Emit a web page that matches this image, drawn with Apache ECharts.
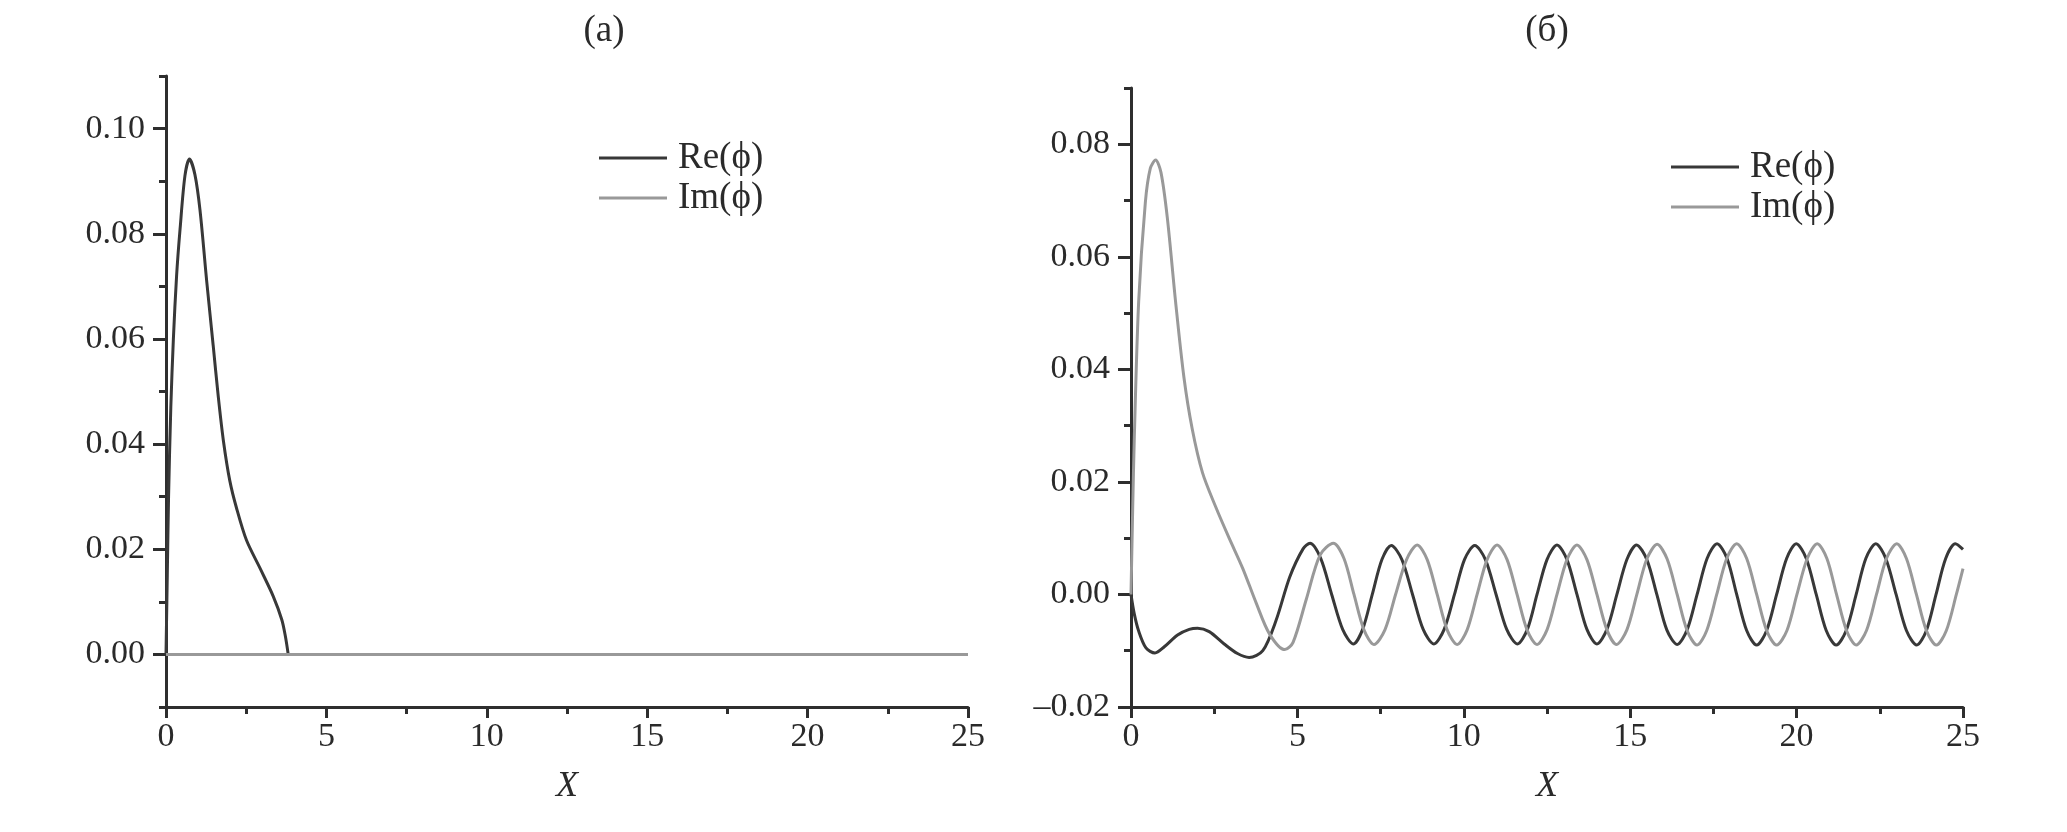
<!DOCTYPE html>
<html>
<head>
<meta charset="utf-8">
<script src="https://cdn.jsdelivr.net/npm/echarts@6/dist/echarts.min.js"></script>
<style>
html,body{margin:0;padding:0;background:#fff;}
#chart{width:2067px;height:832px;}
</style>
</head>
<body>
<div id="chart"></div>
<script>
// ---- data ----
const panelTitles = ['(а)', '(б)'];
const seriesNames = ['Re(ϕ)', 'Im(ϕ)'];
const xName = 'X';

const xMajorTicks = [0, 5, 10, 15, 20, 25];
const xMinorTicks = [2.5, 7.5, 12.5, 17.5, 22.5];

const leftYMajorTicks = [0, 0.02, 0.04, 0.06, 0.08, 0.10];
const leftYMinorTicks = [-0.01, 0.01, 0.03, 0.05, 0.07, 0.09, 0.11];
const rightYMajorTicks = [-0.02, 0, 0.02, 0.04, 0.06, 0.08];
const rightYMinorTicks = [-0.01, 0.01, 0.03, 0.05, 0.07, 0.09];

// panel (a)
const leftRe = [
  [0, 0], [0.04, 0.015], [0.08, 0.03], [0.15, 0.047], [0.23, 0.06], [0.33, 0.072],
  [0.44, 0.081], [0.59, 0.091], [0.73, 0.0942], [0.9, 0.0913], [1.06, 0.0845],
  [1.27, 0.0709], [1.47, 0.0588], [1.63, 0.049], [1.79, 0.0406], [1.99, 0.033],
  [2.2, 0.0278], [2.51, 0.0217], [2.93, 0.0164], [3.34, 0.0111], [3.61, 0.0066],
  [3.72, 0.0035], [3.81, 0]
];
const leftIm = [[0, 0], [25, 0]];

// panel (б)
const rightRe = [
  [0, 0], [0.1, -0.0035], [0.23, -0.0065], [0.45, -0.0095], [0.72, -0.0104],
  [1.0, -0.0093], [1.4, -0.0072], [1.75, -0.0062], [2.0, -0.006], [2.35, -0.0066],
  [2.8, -0.0088], [3.2, -0.0105], [3.55, -0.0112], [3.96, -0.010], [4.36, -0.0046],
  [4.77, 0.0031], [5.17, 0.0081], [5.38, 0.0091], [5.70, 0.0064], [6.03, 0],
  [6.36, -0.0062], [6.68, -0.0088], [6.96, -0.0062], [7.25, 0], [7.54, 0.0062],
  [7.82, 0.0087], [8.14, 0.0062], [8.46, 0], [8.78, -0.0062], [9.1, -0.0088],
  [9.41, -0.0062], [9.72, 0], [10.02, 0.0062], [10.33, 0.0087], [10.65, 0.0062],
  [10.97, 0], [11.29, -0.0062], [11.61, -0.0088], [11.91, -0.0062], [12.2, 0],
  [12.5, 0.0062], [12.8, 0.0088], [13.1, 0.0062], [13.4, 0], [13.7, -0.0062],
  [14.0, -0.0088], [14.3, -0.0062], [14.6, 0], [14.9, 0.0062], [15.19, 0.0088],
  [15.5, 0.0062], [15.8, 0], [16.1, -0.0063], [16.41, -0.0089], [16.71, -0.0063],
  [17.01, 0], [17.31, 0.0064], [17.61, 0.009], [17.91, 0.0064], [18.2, 0],
  [18.5, -0.0064], [18.8, -0.009], [19.1, -0.0064], [19.4, 0], [19.7, 0.0064],
  [19.99, 0.009], [20.29, 0.0064], [20.59, 0], [20.89, -0.0064], [21.19, -0.009],
  [21.49, -0.0064], [21.79, 0], [22.08, 0.0064], [22.38, 0.009], [22.68, 0.0064],
  [22.99, 0], [23.3, -0.0064], [23.61, -0.009], [23.9, -0.0064], [24.19, 0],
  [24.48, 0.0064], [24.77, 0.009], [25.0, 0.008]
];
const rightIm = [
  [0, 0], [0.05, 0.015], [0.1, 0.028], [0.23, 0.052], [0.43, 0.0696], [0.58, 0.0757],
  [0.74, 0.0772], [0.9, 0.075], [1.09, 0.067], [1.34, 0.052], [1.59, 0.0386],
  [1.84, 0.0294], [2.15, 0.0216], [2.55, 0.0155], [2.95, 0.010], [3.36, 0.0046],
  [3.76, -0.0015], [4.16, -0.007], [4.62, -0.0098], [4.87, -0.0085], [5.27, -0.0008],
  [5.68, 0.007], [6.08, 0.0091], [6.4, 0.0064], [6.7, 0], [7.0, -0.0063],
  [7.3, -0.0089], [7.63, -0.0063], [7.95, 0], [8.28, 0.0062], [8.6, 0.0088],
  [8.9, 0.0062], [9.2, 0], [9.5, -0.0063], [9.8, -0.0089], [10.1, -0.0063],
  [10.4, 0], [10.7, 0.0062], [11.0, 0.0088], [11.3, 0.0062], [11.6, 0],
  [11.9, -0.0063], [12.2, -0.0089], [12.5, -0.0063], [12.8, 0], [13.1, 0.0062],
  [13.4, 0.0088], [13.7, 0.0062], [14.0, 0], [14.3, -0.0063], [14.59, -0.0089],
  [14.9, -0.0063], [15.2, 0], [15.5, 0.0063], [15.81, 0.0089], [16.11, 0.0063],
  [16.41, 0], [16.71, -0.0064], [17.01, -0.009], [17.3, -0.0064], [17.6, 0],
  [17.9, 0.0064], [18.2, 0.009], [18.5, 0.0064], [18.8, 0], [19.1, -0.0064],
  [19.4, -0.009], [19.71, -0.0064], [20.01, 0], [20.32, 0.0064], [20.62, 0.009],
  [20.91, 0.0064], [21.2, 0], [21.5, -0.0064], [21.79, -0.009], [22.1, -0.0064],
  [22.4, 0], [22.7, 0.0064], [23.01, 0.009], [23.3, 0.0064], [23.6, 0],
  [23.9, -0.0064], [24.2, -0.009], [24.5, -0.0064], [24.8, 0], [25.0, 0.0046]
];

// ---- styling ----
const FONT = '"Liberation Serif", "Times New Roman", serif';
const AXIS_COLOR = '#2e2e2e';
const TEXT_COLOR = '#2a2a2a';
const RE_COLOR = '#383838';
const IM_COLOR = '#999999';

function fmt(v) {
  const s = Math.abs(v).toFixed(2);
  return (v < -1e-9 ? '\u2013' : '') + s;
}

function majorX(grid) {
  return {
    type: 'value', gridIndex: grid, min: 0, max: 25, position: 'bottom',
    name: xName, nameLocation: 'middle', nameGap: 62,
    nameTextStyle: { fontFamily: FONT, fontSize: 36, fontStyle: 'italic', color: TEXT_COLOR },
    axisLine: { show: true, onZero: false, lineStyle: { color: AXIS_COLOR, width: 3 } },
    axisTick: { show: true, customValues: xMajorTicks, length: 11, lineStyle: { color: AXIS_COLOR, width: 3 } },
    axisLabel: { customValues: xMajorTicks, margin: 13, fontFamily: FONT, fontSize: 34, color: TEXT_COLOR, formatter: v => String(v) },
    splitLine: { show: false }
  };
}
function minorX(grid) {
  return {
    type: 'value', gridIndex: grid, min: 0, max: 25, position: 'bottom', offset: 0,
    axisLine: { show: false, onZero: false },
    axisTick: { show: true, customValues: xMinorTicks, length: 7, lineStyle: { color: AXIS_COLOR, width: 3 } },
    axisLabel: { show: false },
    splitLine: { show: false }
  };
}
function majorY(grid, min, max, ticks) {
  return {
    type: 'value', gridIndex: grid, min: min, max: max, position: 'left',
    axisLine: { show: true, onZero: false, lineStyle: { color: AXIS_COLOR, width: 3 } },
    axisTick: { show: true, customValues: ticks, length: 13, lineStyle: { color: AXIS_COLOR, width: 3 } },
    axisLabel: { customValues: ticks, margin: 21, fontFamily: FONT, fontSize: 34, color: TEXT_COLOR, formatter: fmt },
    splitLine: { show: false }
  };
}
function minorY(grid, min, max, ticks) {
  return {
    type: 'value', gridIndex: grid, min: min, max: max, position: 'left', offset: 0,
    axisLine: { show: false, onZero: false },
    axisTick: { show: true, customValues: ticks, length: 7, lineStyle: { color: AXIS_COLOR, width: 3 } },
    axisLabel: { show: false },
    splitLine: { show: false }
  };
}
function lineSeries(name, data, xi, yi, color, smooth) {
  return {
    type: 'line', name: name, data: data, xAxisIndex: xi, yAxisIndex: yi,
    showSymbol: false, symbol: 'none', smooth: smooth, color: color,
    lineStyle: { color: color, width: 3 }, itemStyle: { color: color },
    animation: false
  };
}
function legendAt(left, top) {
  return {
    data: seriesNames, left: left, top: top, orient: 'vertical',
    icon: 'rect', itemWidth: 68, itemHeight: 3, itemGap: 0, selectedMode: false,
    textStyle: { fontFamily: FONT, fontSize: 37, color: TEXT_COLOR, lineHeight: 40, padding: [0, 0, 0, 6] }
  };
}

const chart = echarts.init(document.getElementById('chart'), null, { renderer: 'canvas' });
chart.setOption({
  backgroundColor: '#ffffff',
  animation: false,
  title: [
    { text: panelTitles[0], left: 599, top: 8, textAlign: 'center',
      textStyle: { fontFamily: FONT, fontSize: 37, fontWeight: 'normal', color: TEXT_COLOR } },
    { text: panelTitles[1], left: 1542, top: 8, textAlign: 'center',
      textStyle: { fontFamily: FONT, fontSize: 37, fontWeight: 'normal', color: TEXT_COLOR } }
  ],
  legend: [legendAt(594, 133), legendAt(1666, 142)],
  grid: [
    { left: 166, right: 2067 - 968, top: 76, bottom: 832 - 707, containLabel: false },
    { left: 1131, right: 2067 - 1963, top: 88, bottom: 832 - 707, containLabel: false }
  ],
  xAxis: [majorX(0), minorX(0), majorX(1), minorX(1)],
  yAxis: [
    majorY(0, -0.01, 0.11, leftYMajorTicks), minorY(0, -0.01, 0.11, leftYMinorTicks),
    majorY(1, -0.02, 0.09, rightYMajorTicks), minorY(1, -0.02, 0.09, rightYMinorTicks)
  ],
  series: [
    lineSeries(seriesNames[0], leftRe, 0, 0, RE_COLOR, 0.3),
    lineSeries(seriesNames[1], leftIm, 0, 0, IM_COLOR, false),
    lineSeries(seriesNames[0], rightRe, 2, 2, RE_COLOR, 0.3),
    lineSeries(seriesNames[1], rightIm, 2, 2, IM_COLOR, 0.3)
  ]
});
</script>
</body>
</html>
